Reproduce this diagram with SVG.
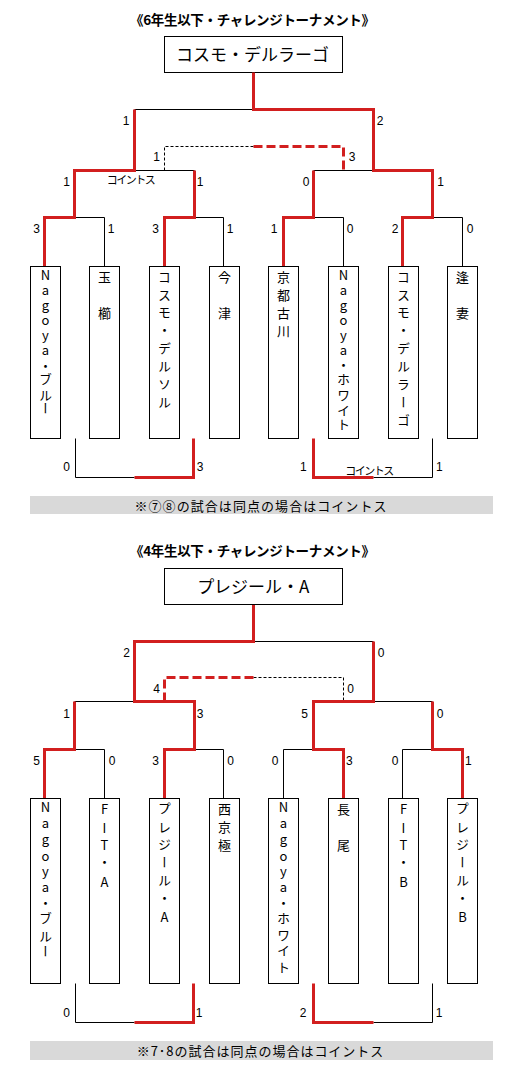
<svg xmlns="http://www.w3.org/2000/svg" width="526" height="1078" viewBox="0 0 526 1078">
<style>
.bk{fill:none;stroke:#000;stroke-width:1}
.rd{fill:none;stroke:#d21f1f;stroke-width:3;stroke-linejoin:miter}
.dk{fill:none;stroke:#000;stroke-width:1;stroke-dasharray:3 2}
.dr{fill:none;stroke:#d21f1f;stroke-width:3;stroke-dasharray:9 4}
.box{fill:#fff;stroke:#000;stroke-width:1}
.bar{fill:#d9d9d9}
.num{font-family:"Liberation Sans",Arial,sans-serif;font-size:12px;text-anchor:middle;fill:#000}
.jp{font-family:"Noto Sans CJK JP",sans-serif;fill:#000}
.title{font-size:13.5px;font-weight:bold;text-anchor:middle}
.champ{font-size:17px;text-anchor:middle}
.v{font-size:13px;writing-mode:vertical-rl;text-orientation:upright;text-anchor:middle}
.note{font-size:13px;text-anchor:middle}
.toss{font-size:11px;text-anchor:middle}
</style>

<!-- ===== 6年生以下 ===== -->
<g id="title-6"><text class="jp title" x="252.5" y="24.7" textLength="245">《6年生以下・チャレンジトーナメント》</text></g>
<g id="champion-6"><rect class="box" x="164.5" y="36.5" width="178" height="36"/><text class="jp champ" x="252.5" y="60.5">コスモ・デルラーゴ</text></g>

<g id="connectors">
  <!-- top: black -->
  <path class="bk" d="M134.5 109.5H253.5"/>
  <path class="bk" d="M134.5 170.5H194.5"/>
  <path class="bk" d="M313.5 170.5H373.5"/>
  <path class="bk" d="M104.5 266.5V217.5H74.5"/>
  <path class="bk" d="M223.5 266.5V217.5H194.5"/>
  <path class="bk" d="M343.5 266.5V217.5H313.5"/>
  <path class="bk" d="M462.5 266.5V217.5H432.5"/>
  <path class="dk" d="M164.5 170.5V146.5H253.5"/>
  <path class="bk" d="M75.5 438.5V477.5H134.5"/>
  <path class="bk" d="M373.5 477.5H432.5V438.5"/>
  <!-- top: red -->
  <path class="rd" d="M44.5 266.5V217.5H74.5V170.5H134.5V109.5"/>
  <path class="rd" d="M164.5 266.5V217.5H194.5V170.5"/>
  <path class="rd" d="M283.5 266.5V217.5H313.5V170.5"/>
  <path class="rd" d="M402.5 266.5V217.5H432.5V170.5H373.5V109.5H253.5V72.5"/>
  <path class="dr" d="M253.5 146.5H343.5V170.5"/>
  <path class="rd" d="M134.5 477.5H193.5V438.5"/>
  <path class="rd" d="M313.5 438.5V477.5H373.5"/>

  <!-- bottom: black -->
  <path class="bk" d="M253.5 641.5H373.5"/>
  <path class="bk" d="M74.5 701.5H134.5"/>
  <path class="bk" d="M373.5 701.5H432.5"/>
  <path class="bk" d="M104.5 798.5V749.5H74.5"/>
  <path class="bk" d="M223.5 798.5V749.5H194.5"/>
  <path class="bk" d="M283.5 798.5V749.5H313.5"/>
  <path class="bk" d="M402.5 798.5V749.5H432.5"/>
  <path class="dk" d="M253.5 677.5H343.5V701.5"/>
  <path class="bk" d="M75.5 983.5V1022.5H134.5"/>
  <path class="bk" d="M373.5 1022.5H432.5V983.5"/>
  <!-- bottom: red -->
  <path class="rd" d="M44.5 798.5V749.5H74.5V701.5"/>
  <path class="rd" d="M164.5 798.5V749.5H194.5V701.5H134.5V641.5H253.5V604.5"/>
  <path class="rd" d="M343.5 798.5V749.5H313.5V701.5H373.5V641.5"/>
  <path class="rd" d="M462.5 798.5V749.5H432.5V701.5"/>
  <path class="dr" d="M164.5 701.5V677.5H253.5"/>
  <path class="rd" d="M134.5 1022.5H193.5V983.5"/>
  <path class="rd" d="M313.5 983.5V1022.5H373.5"/>
</g>

<g id="scores-6">
  <text class="num" x="126" y="125.3">1</text><text class="num" x="380" y="125.3">2</text>
  <text class="num" x="156.7" y="161.3">1</text><text class="num" x="352" y="161.3">3</text>
  <text class="num" x="66.5" y="185.6">1</text><text class="num" x="200" y="185.6">1</text>
  <text class="num" x="306" y="185.6">0</text><text class="num" x="440.5" y="185.6">1</text>
  <text class="num" x="36.7" y="233.3">3</text><text class="num" x="111" y="233.3">1</text>
  <text class="num" x="155.7" y="233.3">3</text><text class="num" x="230" y="233.3">1</text>
  <text class="num" x="274" y="233.3">1</text><text class="num" x="350" y="233.3">0</text>
  <text class="num" x="395" y="233.3">2</text><text class="num" x="470" y="233.3">0</text>
  <text class="num" x="66.7" y="471.3">0</text><text class="num" x="200" y="471.3">3</text>
  <text class="num" x="303.3" y="471.3">1</text><text class="num" x="439.3" y="471.3">1</text>
  <text class="jp toss" x="131.3" y="183.5" textLength="49">コイントス</text>
  <text class="jp toss" x="369.7" y="474.5" textLength="49">コイントス</text>
</g>

<g id="t6-1"><rect class="box" x="30.5" y="266.5" width="30" height="172"/>
<text class="jp v" x="45.5"><tspan y="275">N</tspan><tspan y="290">a</tspan><tspan y="305">g</tspan><tspan y="320">o</tspan><tspan y="335">y</tspan><tspan y="350">a</tspan><tspan y="366">・</tspan><tspan y="379">ブ</tspan><tspan y="395">ル</tspan><tspan y="408">ー</tspan></text></g>
<g id="t6-2"><rect class="box" x="89.5" y="266.5" width="30" height="172"/>
<text class="jp v" x="104.5"><tspan y="276.7">玉</tspan><tspan y="313">櫛</tspan></text></g>
<g id="t6-3"><rect class="box" x="149.5" y="266.5" width="30" height="172"/>
<text class="jp v" x="164.5"><tspan y="276.7">コ</tspan><tspan y="294.6">ス</tspan><tspan y="312.5">モ</tspan><tspan y="330.4">・</tspan><tspan y="348.3">デ</tspan><tspan y="366.2">ル</tspan><tspan y="384.1">ソ</tspan><tspan y="402">ル</tspan></text></g>
<g id="t6-4"><rect class="box" x="209.5" y="266.5" width="30" height="172"/>
<text class="jp v" x="224.5"><tspan y="276.7">今</tspan><tspan y="312.7">津</tspan></text></g>
<g id="t6-5"><rect class="box" x="268.5" y="266.5" width="30" height="172"/>
<text class="jp v" x="283.5"><tspan y="277">京</tspan><tspan y="295">都</tspan><tspan y="313">古</tspan><tspan y="331">川</tspan></text></g>
<g id="t6-6"><rect class="box" x="328.5" y="266.5" width="30" height="172"/>
<text class="jp v" x="343.5"><tspan y="275">N</tspan><tspan y="290">a</tspan><tspan y="305">g</tspan><tspan y="320">o</tspan><tspan y="335">y</tspan><tspan y="350">a</tspan><tspan y="365">・</tspan><tspan y="379">ホ</tspan><tspan y="395">ワ</tspan><tspan y="410">イ</tspan><tspan y="424">ト</tspan></text></g>
<g id="t6-7"><rect class="box" x="388.5" y="266.5" width="30" height="172"/>
<text class="jp v" x="403.5"><tspan y="276.7">コ</tspan><tspan y="294.6">ス</tspan><tspan y="312.5">モ</tspan><tspan y="330.4">・</tspan><tspan y="348.3">デ</tspan><tspan y="366.2">ル</tspan><tspan y="384.1">ラ</tspan><tspan y="402">ー</tspan><tspan y="420">ゴ</tspan></text></g>
<g id="t6-8"><rect class="box" x="447.5" y="266.5" width="30" height="172"/>
<text class="jp v" x="462.5"><tspan y="276.7">逢</tspan><tspan y="312.7">妻</tspan></text></g>

<g id="note-6"><rect class="bar" x="30" y="496" width="463" height="18"/><text class="jp note" x="260.5" y="511.3" textLength="252">※⑦⑧の試合は同点の場合はコイントス</text></g>

<!-- ===== 4年生以下 ===== -->
<g id="title-4"><text class="jp title" x="252.5" y="556.4" textLength="245">《4年生以下・チャレンジトーナメント》</text></g>
<g id="champion-4"><rect class="box" x="164.5" y="568.5" width="178" height="36"/><text class="jp champ" x="253.3" y="592.5">プレジール・A</text></g>

<g id="scores-4">
  <text class="num" x="126.7" y="656.6">2</text><text class="num" x="381" y="656.6">0</text>
  <text class="num" x="156.7" y="693.3">4</text><text class="num" x="350.7" y="693.3">0</text>
  <text class="num" x="66.7" y="717.6">1</text><text class="num" x="200" y="717.6">3</text>
  <text class="num" x="304.5" y="717.6">5</text><text class="num" x="440" y="717.6">0</text>
  <text class="num" x="36.7" y="765.3">5</text><text class="num" x="112" y="765.3">0</text>
  <text class="num" x="155.7" y="765.3">3</text><text class="num" x="230.7" y="765.3">0</text>
  <text class="num" x="275" y="765.3">0</text><text class="num" x="349.3" y="765.3">3</text>
  <text class="num" x="395" y="765.3">0</text><text class="num" x="468.3" y="765.3">1</text>
  <text class="num" x="66.7" y="1016.6">0</text><text class="num" x="199" y="1016.6">1</text>
  <text class="num" x="303" y="1016.6">2</text><text class="num" x="439" y="1016.6">1</text>
</g>

<g id="t4-1"><rect class="box" x="30.5" y="798.5" width="30" height="185"/>
<text class="jp v" x="45.5"><tspan y="807.3">N</tspan><tspan y="823.5">a</tspan><tspan y="839.5">g</tspan><tspan y="856">o</tspan><tspan y="871">y</tspan><tspan y="887.5">a</tspan><tspan y="903.3">・</tspan><tspan y="918.3">ブ</tspan><tspan y="936">ル</tspan><tspan y="951">ー</tspan></text></g>
<g id="t4-2"><rect class="box" x="89.5" y="798.5" width="30" height="185"/>
<text class="jp v" x="104.5"><tspan y="809.3">F</tspan><tspan y="827.7">I</tspan><tspan y="845">T</tspan><tspan y="861.7">・</tspan><tspan y="881.7">A</tspan></text></g>
<g id="t4-3"><rect class="box" x="149.5" y="798.5" width="30" height="185"/>
<text class="jp v" x="164.5"><tspan y="808.3">プ</tspan><tspan y="826.7">レ</tspan><tspan y="843.8">ジ</tspan><tspan y="861.7">ー</tspan><tspan y="880">ル</tspan><tspan y="898.3">・</tspan><tspan y="916.7">A</tspan></text></g>
<g id="t4-4"><rect class="box" x="209.5" y="798.5" width="30" height="185"/>
<text class="jp v" x="224.5"><tspan y="809.3">西</tspan><tspan y="826.7">京</tspan><tspan y="845">極</tspan></text></g>
<g id="t4-5"><rect class="box" x="268.5" y="798.5" width="30" height="185"/>
<text class="jp v" x="283.5"><tspan y="807.3">N</tspan><tspan y="823.5">a</tspan><tspan y="839.5">g</tspan><tspan y="856">o</tspan><tspan y="871">y</tspan><tspan y="887.5">a</tspan><tspan y="903.3">・</tspan><tspan y="918.3">ホ</tspan><tspan y="935">ワ</tspan><tspan y="950">イ</tspan><tspan y="966.7">ト</tspan></text></g>
<g id="t4-6"><rect class="box" x="328.5" y="798.5" width="30" height="185"/>
<text class="jp v" x="343.5"><tspan y="809.3">長</tspan><tspan y="845">尾</tspan></text></g>
<g id="t4-7"><rect class="box" x="388.5" y="798.5" width="30" height="185"/>
<text class="jp v" x="403.5"><tspan y="809.3">F</tspan><tspan y="827.7">I</tspan><tspan y="845">T</tspan><tspan y="861.7">・</tspan><tspan y="881.7">B</tspan></text></g>
<g id="t4-8"><rect class="box" x="447.5" y="798.5" width="30" height="185"/>
<text class="jp v" x="462.5"><tspan y="808.3">プ</tspan><tspan y="826.7">レ</tspan><tspan y="843.8">ジ</tspan><tspan y="861.7">ー</tspan><tspan y="880">ル</tspan><tspan y="898.3">・</tspan><tspan y="916.7">B</tspan></text></g>

<g id="note-4"><rect class="bar" x="30" y="1041" width="463" height="19"/><text class="jp note" x="260" y="1055.6" textLength="246.7">※7･8の試合は同点の場合はコイントス</text></g>
</svg>
